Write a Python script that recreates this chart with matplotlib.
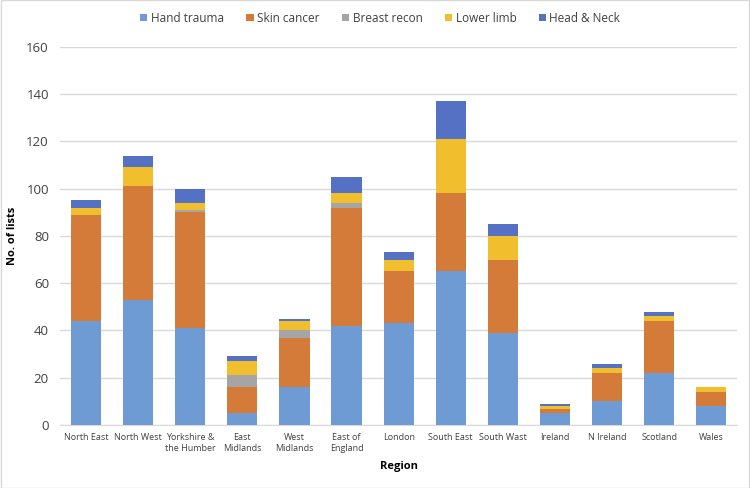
import numpy as np
import matplotlib
matplotlib.use('Agg')
import matplotlib.pyplot as plt

regions = ["North East", "North West", "Yorkshire &\nthe Humber", "East\nMidlands",
           "West\nMidlands", "East of\nEngland", "London", "South East", "South Wast",
           "Ireland", "N Ireland", "Scotland", "Wales"]
hand_trauma = [44, 53, 41, 5, 16, 42, 43, 65, 39, 5, 10, 22, 8]
skin_cancer = [45, 48, 49, 11, 21, 50, 22, 33, 31, 2, 12, 22, 6]
breast_recon = [0, 0, 1, 5, 3, 2, 0, 0, 0, 0, 0, 0, 0]
lower_limb = [3, 8, 3, 6, 4, 4, 5, 23, 10, 1, 2, 2, 2]
head_neck = [3, 5, 6, 2, 1, 7, 3, 16, 5, 1, 2, 2, 0]

series = [("Hand trauma", hand_trauma, "#6f9bd4"),
          ("Skin cancer", skin_cancer, "#d57b39"),
          ("Breast recon", breast_recon, "#a5a5a5"),
          ("Lower limb", lower_limb, "#f1bf2d"),
          ("Head & Neck", head_neck, "#5571c4")]

plt.rcParams['font.family'] = ['Open Sans', 'DejaVu Sans']

fig = plt.figure(figsize=(7.5, 4.88), dpi=100)
ax = fig.add_axes([0.08, 0.129, 0.903, 0.775])

x = np.arange(len(regions))
bottom = np.zeros(len(regions))
for name, vals, col in series:
    vals = np.array(vals, dtype=float)
    ax.bar(x, vals, 0.58, bottom=bottom, color=col, label=name, zorder=3)
    bottom += vals

ax.set_ylim(0, 160)
ax.set_yticks(range(0, 161, 20))
ax.set_xlim(-0.5, len(regions) - 0.5)
ax.set_xticks(x)
ax.set_xticklabels(regions, fontsize=6.5, color="#404040")
ax.tick_params(axis='y', labelsize=9.5, colors="#404040", length=0, pad=8)
ax.tick_params(axis='x', length=0, pad=6)
ax.yaxis.grid(True, color="#d9d9d9", linewidth=1, zorder=0)
for s in ['top', 'right', 'left']:
    ax.spines[s].set_visible(False)
ax.spines['bottom'].set_color("#d9d9d9")

ax.set_xlabel("Region", fontsize=8, fontweight='bold', labelpad=6)
ax.set_ylabel("No. of lists", fontsize=8, fontweight='bold')
ax.yaxis.set_label_coords(-0.062, 0.5)

fig.legend(loc='center', bbox_to_anchor=(0.507, 0.963), ncol=5, frameon=False,
           fontsize=8.5, handlelength=0.6, handleheight=0.6, columnspacing=1.9,
           handletextpad=0.3, labelcolor="#404040")

fig.patches.append(plt.Rectangle((0.001, 0.001), 0.998, 0.998, transform=fig.transFigure,
                                 fill=False, edgecolor="#d9d9d9", linewidth=1))

fig.savefig("out.png", dpi=100)
